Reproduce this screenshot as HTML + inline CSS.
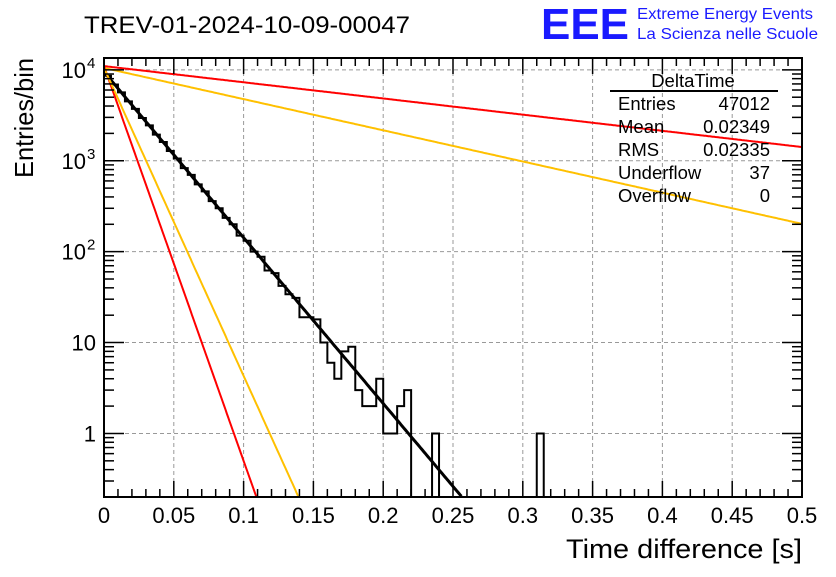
<!DOCTYPE html>
<html><head><meta charset="utf-8"><style>
body{margin:0;background:#fff;}
svg text{font-family:"Liberation Sans",sans-serif;}
</style></head><body>
<svg id="chart" width="836" height="572" xmlns="http://www.w3.org/2000/svg">
<rect width="836" height="572" fill="#fff"/>
<text x="84" y="33" font-size="24" textLength="326" lengthAdjust="spacingAndGlyphs">TREV-01-2024-10-09-00047</text>
<text x="541" y="39" font-size="44" font-weight="bold" fill="#1a1aff" textLength="88" lengthAdjust="spacingAndGlyphs">EEE</text>
<text x="637" y="19" font-size="16" fill="#1a1aff" textLength="176" lengthAdjust="spacingAndGlyphs">Extreme Energy Events</text>
<text x="637" y="39" font-size="16" fill="#1a1aff" textLength="181" lengthAdjust="spacingAndGlyphs">La Scienza nelle Scuole</text>
<g id="grid"></g>
<g id="series"></g>
<g id="axes"></g>
<g font-size="18.5">
<text x="693" y="87" text-anchor="middle">DeltaTime</text>
<line x1="610" y1="91" x2="778" y2="91" stroke="#000" stroke-width="2"/>
<text x="618" y="110">Entries</text><text x="770" y="110" text-anchor="end">47012</text>
<text x="618" y="133">Mean</text><text x="770" y="133" text-anchor="end">0.02349</text>
<text x="618" y="156">RMS</text><text x="770" y="156" text-anchor="end">0.02335</text>
<text x="618" y="179">Underflow</text><text x="770" y="179" text-anchor="end">37</text>
<text x="618" y="202">Overflow</text><text x="770" y="202" text-anchor="end">0</text>
</g>
<text x="802" y="558" font-size="27" text-anchor="end" textLength="236" lengthAdjust="spacingAndGlyphs">Time difference [s]</text>
<text transform="translate(33,58) rotate(-90)" font-size="26" text-anchor="end" textLength="120" lengthAdjust="spacingAndGlyphs">Entries/bin</text>
</svg>
<script>
const binWidth = 0.005;
const counts = [8600,6900,5650,4500,3720,2950,2450,1940,1610,1280,1060,830,700,550,460,360,300,235,200,150,132,100,88,62,58,42,34,31,19,19,18,10,6,4,8,9,3,2,2,4,1,1,2,3,0,0,0,1,0,0,0,0,0,0,0,0,0,0,0,0,0,0,1,0];
const fitAmps = [9500, 11000, 10500, 11000, 10500];
const fitSlopes = [42, 4.1, 7.9, 100, 78];
const fitColors = ["#000","#ff0000","#ffc000","#ff0000","#ffc000"];
const xTicks = [0,0.05,0.1,0.15,0.2,0.25,0.3,0.35,0.4,0.45,0.5];
const xTickLabels = ["0","0.05","0.1","0.15","0.2","0.25","0.3","0.35","0.4","0.45","0.5"];
const yDecades = [0,1,2,3,4];

const X0=104,X1=802,Y0=58,Y1=497;
const yMin=Math.log10(0.2), yMax=Math.log10(13500);
const sx=v=>X0+(v-0)/(0.5)*(X1-X0);
const sy=v=>{const l=Math.log10(Math.max(v,0.2));return Y1-(l-yMin)/(yMax-yMin)*(Y1-Y0);};
const NS="http://www.w3.org/2000/svg";
function mk(tag,attrs,parent){const e=document.createElementNS(NS,tag);for(const k in attrs)e.setAttribute(k,attrs[k]);parent.appendChild(e);return e;}
const grid=document.getElementById('grid'),ser=document.getElementById('series'),ax=document.getElementById('axes');
xTicks.forEach(t=>{if(t>0&&t<0.5){const l=mk('line',{x1:sx(t),x2:sx(t),y1:Y0,y2:Y1,stroke:'#999','stroke-dasharray':'4,3'},grid);

}});
yDecades.forEach(d=>{const y=sy(Math.pow(10,d));const l=mk('line',{x1:X0,x2:X1,y1:y,y2:y,stroke:'#999','stroke-dasharray':'4,3'},grid);

});
let d='M'+sx(0)+','+Y1;
counts.forEach((c,i)=>{const y=c>0?sy(c):Y1;d+=' L'+sx(i*binWidth)+','+y+' L'+sx((i+1)*binWidth)+','+y;});
d+=' L'+sx(counts.length*binWidth)+','+Y1;
const h=mk('path',{d:d,fill:'none',stroke:'#000','stroke-width':2},ser);


fitAmps.forEach((A,i)=>{let p='';for(let k=0;k<=500;k++){const x=k*0.001;const v=A*Math.exp(-fitSlopes[i]*x);if(v<0.2){break;}p+=(p?' L':'M')+sx(x).toFixed(1)+','+sy(v).toFixed(1);}
const l=mk('path',{d:p,fill:'none',stroke:fitColors[i],'stroke-width':i==0?3:2},ser);

});
const fr=mk('rect',{x:X0,y:Y0,width:X1-X0,height:Y1-Y0,fill:'none',stroke:'#000','stroke-width':2},ax);


for(let k=0;k<=50;k++){const x=sx(k*0.01);const len=k%5==0?16:8;
mk('line',{x1:x,x2:x,y1:Y1,y2:Y1-len,stroke:'#000','stroke-width':1.5},ax);
mk('line',{x1:x,x2:x,y1:Y0,y2:Y0+len,stroke:'#000','stroke-width':1.5},ax);}
xTicks.forEach((t,i)=>{const tx=mk('text',{x:sx(t),y:523,'font-size':22,'text-anchor':'middle'},ax);tx.textContent=xTickLabels[i];

});
for(let d0=-1;d0<=4;d0++){for(let m=1;m<=9;m++){const v=m*Math.pow(10,d0);if(v<0.2||v>13500)continue;const y=sy(v);const len=m==1?20:10;
mk('line',{x1:X0,x2:X0+len,y1:y,y2:y,stroke:'#000','stroke-width':1.5},ax);
mk('line',{x1:X1,x2:X1-len,y1:y,y2:y,stroke:'#000','stroke-width':1.5},ax);}}
yDecades.forEach(dd=>{const y=sy(Math.pow(10,dd));const t=mk('text',{x:dd>=2?86:96,y:y+8,'font-size':22,'text-anchor':'end'},ax);


if(dd==0)t.textContent='1';else if(dd==1)t.textContent='10';else{t.textContent='10';const s=mk('text',{x:87,y:y-2,'font-size':15},ax);s.textContent=String(dd);

}});
</script>
</body></html>
